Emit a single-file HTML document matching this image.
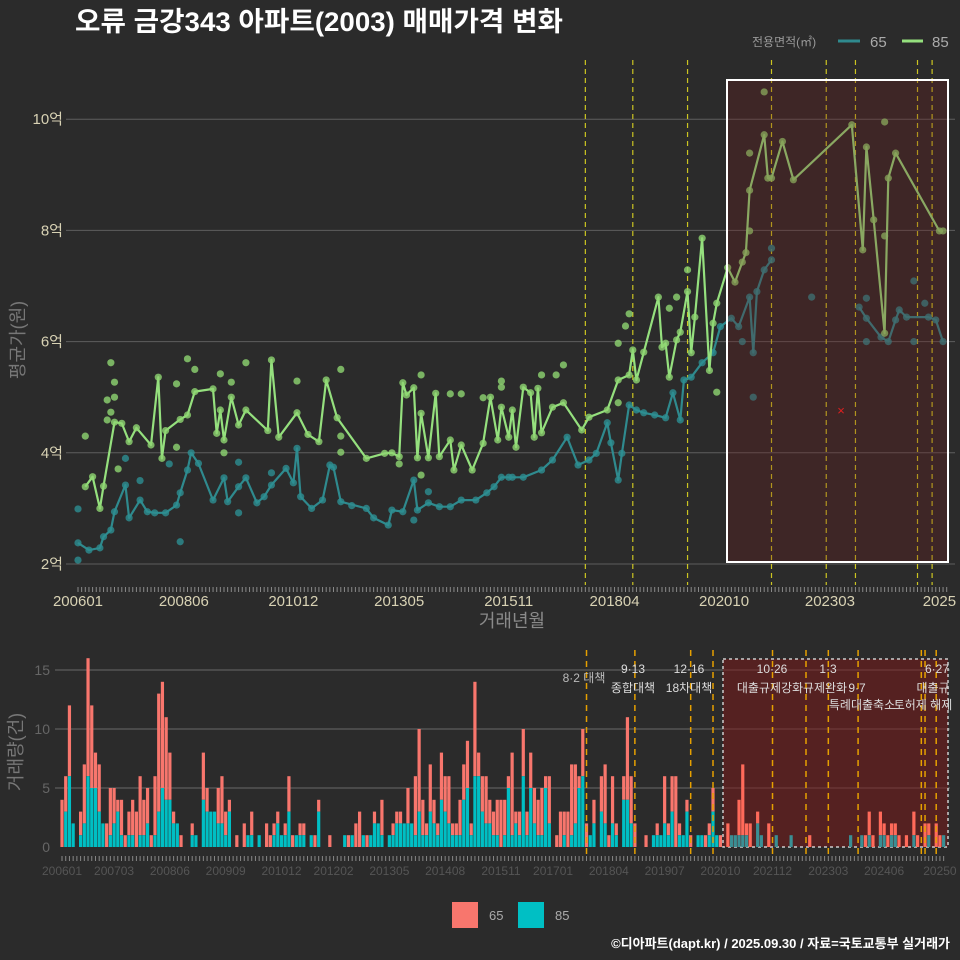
<!DOCTYPE html>
<html><head><meta charset="utf-8">
<style>
html,body{margin:0;padding:0;background:#2b2b2b;}
svg{display:block;font-family:"Liberation Sans","Noto Sans CJK KR",sans-serif;}
</style></head>
<body>
<svg id="chart" width="960" height="960" viewBox="0 0 960 960" xmlns="http://www.w3.org/2000/svg">
<rect x="0" y="0" width="960" height="960" fill="#2b2b2b"/>
<text x="75" y="31" fill="#ffffff" font-size="27" font-weight="bold" textLength="488" lengthAdjust="spacingAndGlyphs">오류 금강343 아파트(2003) 매매가격 변화</text>
<g>
<text x="752" y="46" fill="#999" font-size="12">전용면적(㎡)</text>
<line x1="838" y1="41" x2="860" y2="41" stroke="#2f8a8e" stroke-width="3"/>
<text x="870" y="47" fill="#aaa" font-size="15">65</text>
<line x1="902" y1="41" x2="923" y2="41" stroke="#95e07e" stroke-width="3"/>
<text x="932" y="47" fill="#aaa" font-size="15">85</text>
</g>
<g id="topPanel"></g>
<g id="bottomPanel"></g>
<g>
<rect x="452" y="902" width="26" height="26" fill="#f8766d"/>
<text x="489" y="920" fill="#aaa" font-size="13">65</text>
<rect x="518" y="902" width="26" height="26" fill="#00bfc4"/>
<text x="555" y="920" fill="#aaa" font-size="13">85</text>
</g>
<text x="950" y="948" text-anchor="end" fill="#fff" font-size="13" font-weight="bold">©디아파트(dapt.kr) / 2025.09.30 / 자료=국토교통부 실거래가</text>
</svg>
<script>
// ---- data (month index = months since 2006-01) ----
const months85 = [2,4,6,7,10,12,14,16,20,22,23,24,28,30,32,37,38,39,40,42,44,46,52,53,55,60,63,66,68,71,79,84,86,88,89,90,92,93,94,96,98,99,102,103,105,108,111,113,115,116,118,119,120,122,124,125,126,127,130,133,138,140,145,148,151,152,153,155,159,160,161,162,164,165,167,168,169,171,173,174,175,178,180,182,183,184,188,189,190,193,196,212,215,216,218,221,222,224,236,237];
const price85 = [3.39,3.57,3.0,3.4,4.55,4.53,4.2,4.45,4.14,5.36,3.9,4.4,4.6,4.68,5.1,5.15,4.35,4.77,4.23,5.0,4.5,4.77,4.4,5.67,4.28,4.72,4.33,4.2,5.31,4.63,3.9,3.99,4.0,3.93,5.26,5.04,5.17,3.91,4.71,3.91,5.07,3.93,4.23,3.69,4.14,3.69,4.17,5.0,4.23,4.82,4.28,4.77,4.1,5.18,5.08,4.28,5.16,4.36,4.82,4.9,4.41,4.64,4.77,5.31,5.4,5.85,5.31,5.81,6.8,5.9,5.97,5.36,6.03,6.17,6.9,5.8,6.44,7.86,5.48,6.33,6.69,7.33,7.07,7.43,7.6,8.72,9.72,8.94,8.94,9.6,8.91,9.9,7.65,9.5,8.19,6.15,8.94,9.39,7.99,7.99];
const months65 = [0,3,6,7,9,10,13,14,17,19,21,24,27,28,30,31,33,37,40,41,44,46,49,51,53,57,59,60,61,64,67,69,70,72,79,81,85,86,89,92,93,96,99,102,105,109,112,114,116,118,119,122,127,130,134,137,140,142,145,146,148,149,151,153,155,158,161,163,165,166,168,171,174,176,179,181,184,185,186,188,190,214,216,220,222,224,225,227,233,235,237];
const price65 = [2.38,2.25,2.29,2.49,2.61,2.94,3.42,2.83,3.15,2.94,2.92,2.92,3.06,3.28,3.69,4.0,3.81,3.15,3.55,3.12,3.39,3.55,3.1,3.21,3.42,3.72,3.46,4.08,3.21,3.0,3.15,3.78,3.74,3.12,3.0,2.83,2.7,2.97,2.94,3.51,2.97,3.1,3.03,3.03,3.15,3.15,3.28,3.39,3.56,3.56,3.56,3.56,3.69,3.87,4.28,3.78,3.87,3.99,4.54,4.18,3.51,3.99,4.86,4.77,4.72,4.68,4.63,5.08,4.59,5.31,5.36,5.62,5.8,6.27,6.42,6.27,6.8,5.8,6.9,7.29,7.47,6.62,6.42,6.08,6.0,6.39,6.57,6.44,6.44,6.39,6.0];
// individual trades not on the average line
const tradeMonths85 = [9,10,8,10,9,8,2,11,30,32,27,39,42,46,60,72,72,72,94,102,105,111,116,116,27,40,88,94,188,184,221,221,184,175,167,164,151,150,148,148,133,131,127,162];
const tradePrice85 = [5.62,5.27,4.95,5.0,4.73,4.59,4.3,3.71,5.69,5.5,5.24,5.42,5.27,5.62,5.29,5.5,4.3,4.01,5.4,5.06,5.06,4.99,5.29,5.18,4.1,4.0,3.8,3.6,10.49,9.39,9.95,7.9,7.99,5.09,7.29,6.8,6.5,6.28,5.97,4.9,5.58,5.4,5.4,6.6];
const tradeMonths65 = [28,17,25,44,44,0,0,13,53,75,96,92,185,201,190,182,229,232,216,229,216];
const tradePrice65 = [2.4,3.5,3.8,3.83,2.92,2.99,2.07,3.9,3.64,3.05,3.3,2.79,5.0,6.8,7.68,6.0,7.09,6.69,6.0,6.0,6.78];
const yTicksTop = [2,4,6,8,10];
const xTickLabelsTop = ["200601","200806","201012","201305","201511","201804","202010","202303","2025"];
const xTickMonthsTop = [0,29,59,88,118,147,177,206,236];

const volMonths = [0,1,2,3,5,6,7,8,9,10,11,12,13,14,15,16,17,18,19,20,21,22,23,24,25,26,27,28,29,30,31,32,35,36,38,39,40,41,42,43,44,45,47,49,50,51,53,55,56,57,58,59,60,61,62,63,64,65,67,68,69,72,76,77,78,79,80,81,82,83,84,85,86,88,89,90,91,92,93,94,95,96,97,98,99,100,101,102,103,104,105,106,107,108,109,110,111,112,113,114,115,116,117,118,119,120,121,122,123,124,125,126,127,128,129,130,131,133,134,135,136,137,138,139,140,141,142,143,145,146,147,148,149,151,152,153,154,157,159,160,161,162,163,164,165,166,167,168,169,171,172,173,174,175,176,177,179,180,181,182,183,184,185,187,188,190,192,196,201,212,215,216,217,218,220,221,222,223,224,225,227,229,230,232,233,235,236,237];
const volTotal = [4,6,12,2,3,7,16,12,8,7,2,2,5,5,4,4,1,3,4,3,6,4,5,1,6,13,14,11,8,3,2,1,2,1,8,5,3,3,5,6,3,4,1,2,1,3,1,2,1,2,3,1,2,6,1,1,2,2,1,1,4,1,1,1,1,2,3,1,1,1,3,2,4,1,2,3,3,2,5,2,6,10,4,2,7,4,2,8,6,6,2,2,4,7,9,2,14,8,6,6,4,3,4,4,4,6,8,3,3,10,3,8,5,4,5,6,6,1,3,3,3,7,7,6,10,2,1,4,6,7,1,6,2,6,11,6,2,1,1,2,1,6,2,6,6,2,1,4,1,1,1,1,2,5,1,1,2,1,1,4,7,2,2,3,1,2,1,1,1,1,1,1,3,1,3,2,1,2,2,1,1,3,1,2,2,2,1,1];
const vol85 = [0,3,6,2,1,2,6,5,5,3,2,0,1,2,3,1,0,1,1,0,1,1,2,0,1,3,5,4,4,2,2,0,1,1,4,3,3,3,2,2,1,3,0,0,1,1,1,0,0,1,2,1,1,3,0,1,1,1,1,0,3,0,1,0,1,0,0,1,0,1,2,2,1,1,1,2,2,2,2,2,1,3,1,1,3,2,1,4,3,2,1,1,1,4,5,1,6,6,3,2,2,1,1,0,1,5,1,2,1,6,1,5,2,1,1,5,2,0,0,1,0,1,2,5,6,0,1,2,3,2,0,2,1,4,4,2,0,0,1,1,1,2,1,3,0,1,1,3,0,1,1,0,1,3,1,0,0,1,1,1,1,1,0,2,1,0,1,1,0,1,1,0,1,0,1,1,0,1,1,0,0,1,0,0,1,0,0,1,1];
const yTicksBottom = [0,5,10,15];
const xTickLabelsBottom = ["200601","200703","200806","200909","201012","201202","201305","201408","201511","201701","201804","201907","202010","202112","202303","202406","20250"];
const xTickMonthsBottom = [0,14,29,44,59,73,88,103,118,132,147,162,177,191,206,221,236];

const policyTop = [139,152,167,190,205,213,230,234];
const policyBottom = [141,154,169,175,191,200,206,214,231,232,235];

// ---- helpers ----
const NS = "http://www.w3.org/2000/svg";
function mk(tag, attrs, parent){ const e=document.createElementNS(NS,tag); for(const k in attrs) e.setAttribute(k,attrs[k]); parent.appendChild(e); return e; }
const xT = m => 78 + m*3.65;
const yT = v => 564 - (v-2)*55.6;
const xB = m => 62 + m*3.72;
const yB = v => 847 - v*11.8;

// ---- top chart ----
const topG = document.getElementById('topPanel');


yTicksTop.forEach(v=>{
  const l = mk('line',{x1:66,x2:955,y1:yT(v),y2:yT(v),stroke:'#5e5e5e','stroke-width':1},topG);
  
  
  const t = mk('text',{x:63,y:yT(v)+5,'text-anchor':'end',fill:'#d8d2b4','font-size':15},topG);
  t.textContent = v+'억';
  
  
});
for(let m=0;m<=238;m++){
  const tk = mk('line',{x1:xT(m),x2:xT(m),y1:587,y2:592,stroke:'#8a8a8a','stroke-width':1},topG);
  
  
}
xTickLabelsTop.forEach((s,i)=>{
  const t = mk('text',{x:xT(xTickMonthsTop[i]),y:606,'text-anchor':'middle',fill:'#d8d2b4','font-size':15},topG);
  t.textContent = s;
  
  
});
const xt = mk('text',{x:512,y:627,'text-anchor':'middle',fill:'#8a8a8a','font-size':18},topG);
xt.textContent='거래년월';


const yt = mk('text',{x:24,y:340,'text-anchor':'middle',fill:'#777','font-size':18,transform:'rotate(-90 24 340)'},topG);
yt.textContent='평균가(원)';



policyTop.forEach(m=>{
  const l = mk('line',{x1:xT(m),x2:xT(m),y1:60,y2:585,stroke:'#e8e020','stroke-width':1.2,'stroke-dasharray':'5,4',opacity:0.85},topG);
  
  
});

function drawTrades(months, vals, color, name){
  months.forEach((m,i)=>{
    const c = mk('circle',{cx:xT(m),cy:yT(vals[i]),r:3.6,fill:color,opacity:0.8},topG);
    
    
  });
}
function drawSeries(months, vals, color, lineColor, name, gap){
  let d='';
  months.forEach((m,i)=>{
    const cmd = (i===0 || m-months[i-1]>gap) ? 'M' : 'L';
    d += cmd + xT(m).toFixed(1)+','+yT(vals[i]).toFixed(1)+' ';
  });
  const p = mk('path',{d:d,fill:'none',stroke:lineColor,'stroke-width':2.2,'stroke-linejoin':'round'},topG);
  
  
  months.forEach((m,i)=>{
    const c = mk('circle',{cx:xT(m),cy:yT(vals[i]),r:3.6,fill:color,opacity:0.8},topG);
    
    
  });
}
drawTrades(tradeMonths65, tradePrice65, '#2d8e92', '65');
drawTrades(tradeMonths85, tradePrice85, '#8ed672', '85');
drawSeries(months65, price65, '#2d8e92', '#2f8a8e', '65', 10);
drawSeries(months85, price85, '#8ed672', '#95e07e', '85', 100);

const hl = mk('rect',{x:727,y:80,width:221,height:482,fill:'rgba(110,25,25,0.28)',stroke:'#ffffff','stroke-width':2},topG);



const xm = mk('text',{x:841,y:415,'text-anchor':'middle',fill:'#e02020','font-size':13},topG);
xm.textContent='×';



// ---- bottom chart ----
const botG = document.getElementById('bottomPanel');


yTicksBottom.forEach(v=>{
  if(v>0){
    const l = mk('line',{x1:55,x2:950,y1:yB(v),y2:yB(v),stroke:'#6a6a6a','stroke-width':1},botG);
    
    
  }
  const t = mk('text',{x:50,y:yB(v)+5,'text-anchor':'end',fill:'#666','font-size':14},botG);
  t.textContent=v;
  
  
});
const yt2 = mk('text',{x:22,y:752,'text-anchor':'middle',fill:'#777','font-size':18,transform:'rotate(-90 22 752)'},botG);
yt2.textContent='거래량(건)';



const hl2 = mk('rect',{x:723,y:659,width:225,height:188,fill:'rgba(120,25,25,0.55)',stroke:'#cccccc','stroke-width':1.5,'stroke-dasharray':'3,3'},botG);



volMonths.forEach((m,i)=>{
  const tot = volTotal[i];
  if(tot===undefined) return;
  const t85 = Math.min(vol85[i]||0, tot);
  const x = xB(m)-1.6;
  const inBox = xB(m) > 723;
  if(tot-t85>0){
    const r1 = mk('rect',{x:x,y:yB(tot),width:3.2,height:(tot-t85)*11.8,fill:inBox?'#ff6a5a':'#f8766d'},botG);
    
    
  }
  if(t85>0){
    const r2 = mk('rect',{x:x,y:yB(t85),width:3.2,height:t85*11.8,fill:inBox?'#3a8f94':'#00bfc4'},botG);
    
    
  }
});

policyBottom.forEach(m=>{
  const l = mk('line',{x1:xB(m),x2:xB(m),y1:650,y2:857,stroke:'#e6a000','stroke-width':1.5,'stroke-dasharray':'6,5'},botG);
  
  
});

const notes = [["8·2 대책",584,682,'#bbb'],["9·13",633,673,'#ddd'],["종합대책",633,692,'#ddd'],["12·16",689,673,'#ddd'],["18차대책",689,692,'#ddd'],
["10·26",772,673,'#ddd'],["대출규제강화",770,692,'#ddd'],["1·3",828,673,'#ddd'],["규제완화",825,692,'#ddd'],["9·7",857,692,'#ddd'],
["특례대출축소",862,709,'#ddd'],["토허제 해제",923,709,'#ddd'],["6·27",937,673,'#ddd'],["대출규",933,692,'#ddd']];
notes.forEach(n=>{
  const t = mk('text',{x:n[1],y:n[2],'text-anchor':'middle',fill:n[3],'font-size':12},botG);
  t.textContent=n[0];
  
  
});

for(let m=0;m<=237;m++){
  const tk = mk('line',{x1:xB(m),x2:xB(m),y1:856,y2:861,stroke:'#888','stroke-width':1},botG);
  
  
}
xTickLabelsBottom.forEach((s,i)=>{
  const t = mk('text',{x:xB(xTickMonthsBottom[i]),y:875,'text-anchor':'middle',fill:'#555','font-size':12},botG);
  t.textContent=s;
  
  
});
</script>
</body></html>
